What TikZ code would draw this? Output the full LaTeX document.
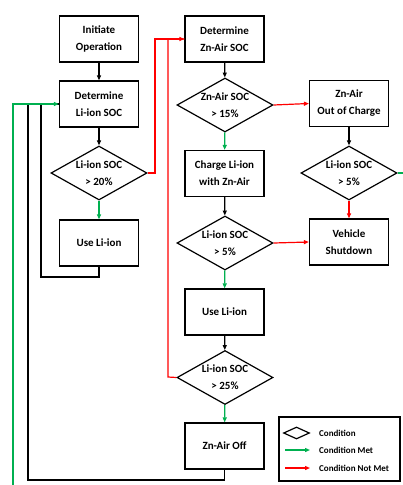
\documentclass[tikz,border=0pt]{standalone}
\usepackage{fontspec}
\setmainfont{Carlito}
\usetikzlibrary{shapes.geometric,arrows.meta}
\definecolor{okgreen}{RGB}{0,176,80}
\definecolor{nogred}{RGB}{255,0,0}
\tikzset{
  box/.style={draw, line width=1.2pt, minimum width=79pt, minimum height=46pt, inner sep=0pt, align=center, font=\fontsize{11}{17}\selectfont\bfseries},
  cond/.style={draw, diamond, line width=1.2pt, minimum width=96pt, minimum height=54pt, inner sep=0pt},
  condtext/.style={align=center, font=\fontsize{11}{17}\selectfont\bfseries},
  tip/.style={-{Triangle[length=5pt,width=4pt]}},
  blk/.style={line width=1.2pt, black},
  grn/.style={line width=1.2pt, okgreen},
  rd/.style={line width=1.2pt, nogred},
  legtext/.style={anchor=west, font=\fontsize{9}{11}\selectfont\bfseries, inner sep=0pt}
}
\begin{document}
\begin{tikzpicture}[x=1pt,y=-1pt]
\useasboundingbox (0,0) rectangle (403,485);
% left column
\node[box] (init) at (99,39) {Initiate\\Operation};
\node[box] (detli) at (99,104) {Determine\\Li-ion SOC};
\node[cond] (d20) at (99,173) {};
\node[condtext] at (d20.center) {Li-ion SOC\\> 20\%};
\node[box] (useli) at (99,243) {Use Li-ion};
% middle column
\node[box] (detzn) at (224.5,39) {Determine\\Zn-Air SOC};
\node[cond] (d15) at (225,105) {};
\node[condtext] at (d15.center) {Zn-Air SOC\\> 15\%};
\node[box] (charge) at (224.5,173.5) {Charge Li-ion\\with Zn-Air};
\node[cond] (d5a) at (225,243) {};
\node[condtext] at (d5a.center) {Li-ion SOC\\> 5\%};
\node[box] (useli2) at (224.5,312) {Use Li-ion};
\node[cond] (d25) at (225,377.5) {};
\node[condtext] at (d25.center) {Li-ion SOC\\> 25\%};
\node[box] (zoff) at (224.5,446) {Zn-Air Off};
% right column
\node[box] (outc) at (349,103.5) {Zn-Air\\Out of Charge};
\node[cond] (d5b) at (349,173) {};
\node[condtext] at (d5b.center) {Li-ion SOC\\> 5\%};
\node[box] (vshut) at (349,242) {Vehicle\\Shutdown};
% junction coordinates
\coordinate (loopA) at (41,277);
\coordinate (loopB) at (28,480);
\coordinate (gstart) at (13,485);
\coordinate (gend) at (403,173);
\coordinate (rj1) at (155,173);
\coordinate (rj2) at (168,377);
% black connectors
\draw[blk,tip] (init) -- (detli);
\draw[blk,tip] (detli) -- (d20);
\draw[blk,tip] (detzn) -- (d15);
\draw[blk,tip] (charge) -- (d5a);
\draw[blk,tip] (useli2) -- (d25);
\draw[blk,tip] (outc) -- (d5b);
\draw[blk] (useli.south) |- (loopA) |- (detli.west);
\draw[blk] (zoff.south) |- (loopB) |- (detli.west);
% green connectors
\draw[grn,tip] (gstart) |- (detli.west);
\draw[grn] (d5b.east) -- (gend);
\draw[grn,tip] (d20) -- (useli);
\draw[grn,tip] (d15) -- (charge);
\draw[grn,tip] (d5a) -- (useli2);
\draw[grn,tip] (d25) -- (zoff);
% red connectors
\draw[rd,tip] (d20.east) -- (rj1) |- (detzn.west);
\draw[rd] (d25.west) -- (rj2) |- (detzn.west);
\draw[rd,tip] (d15.east) -- (outc.west);
\draw[rd,tip] (d5a.east) -- (vshut.west);
\draw[rd,tip] (d5b.south) -- (vshut.north);
% legend
\node[draw, line width=1.2pt, minimum width=121pt, minimum height=64pt, inner sep=0pt] (legend) at (339.5,449) {};
\node[draw, diamond, line width=1.2pt, minimum width=26pt, minimum height=12pt, inner sep=0pt] (legd) at (296.5,433) {};
\coordinate (lg1) at (285,450);
\coordinate (lg2) at (310,450);
\coordinate (lr1) at (285,468);
\coordinate (lr2) at (310,468);
\draw[grn,tip] (lg1) -- (lg2);
\draw[rd,tip] (lr1) -- (lr2);
\node[legtext] (l1) at (319,433) {Condition};
\node[legtext] (l2) at (319,450) {Condition Met};
\node[legtext] (l3) at (319,468) {Condition Not Met};
\end{tikzpicture}
\end{document}
